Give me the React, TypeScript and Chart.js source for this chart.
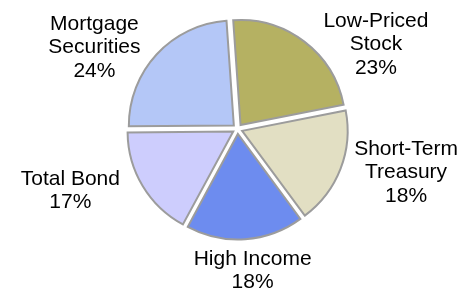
import React, { useEffect, useRef } from "react";
import { Chart, registerables } from "chart.js";

Chart.register(...registerables);

const categories = [
  ["Low-Priced", "Stock"],
  ["Short-Term", "Treasury"],
  ["High Income"],
  ["Total Bond"],
  ["Mortgage", "Securities"],
];
const shares = [23, 18, 18, 17, 24];
const sliceColors = ["#B5B162", "#E2DFC3", "#6D8CEF", "#CDCDFD", "#B4C7F7"];

const W = 462;
const H = 288;
const FONT = '21px "Liberation Sans", Arial, sans-serif';
const LINE_H = 23.5;
const AX = 195;
const AY = 120;
const GAP = 11.5;
const EXPLODE = 20;

const labelPlugin = {
  id: "outsideLabels",
  afterDatasetsDraw(chart: any) {
    const ctx = chart.ctx as CanvasRenderingContext2D;
    const meta = chart.getDatasetMeta(0);
    const total = shares.reduce((a, b) => a + b, 0);
    ctx.save();
    ctx.font = FONT;
    ctx.fillStyle = "#000";
    ctx.textAlign = "center";
    ctx.textBaseline = "middle";
    meta.data.forEach((arc: any, i: number) => {
      const p = arc.getProps(["x", "y", "startAngle", "endAngle", "outerRadius"], true);
      const mid = (p.startAngle + p.endAngle) / 2;
      const ux = Math.cos(mid);
      const uy = Math.sin(mid);
      const lines = [...categories[i], Math.round((shares[i] / total) * 100) + "%"];
      const widths = lines.map((l) => ctx.measureText(l).width);
      const n = lines.length;
      const rEff = p.outerRadius + EXPLODE / 4 + GAP;
      let cx = p.x + AX * ux;
      let cy = p.y + AY * uy;
      const clears = (x: number, y: number) => {
        for (let k = 0; k < n; k++) {
          const ly = y + (k - (n - 1) / 2) * LINE_H;
          const x0 = x - widths[k] / 2, x1 = x + widths[k] / 2;
          const y0 = ly - 8, y1 = ly + 8;
          const nx = Math.max(x0, Math.min(p.x, x1));
          const ny = Math.max(y0, Math.min(p.y, y1));
          if (Math.hypot(nx - p.x, ny - p.y) < rEff) return false;
        }
        return true;
      };
      let guard = 0;
      while (!clears(cx, cy) && guard < 200) {
        cx += ux;
        cy += uy;
        guard++;
      }
      const firstMin = 21;
      const first = cy - ((n - 1) / 2) * LINE_H;
      if (first < firstMin) {
        cy += firstMin - first;
        const dy = (cy - p.y) / AY;
        cx = p.x + Math.sign(ux) * AX * Math.sqrt(Math.max(0, 1 - dy * dy));
      }
      const maxW = Math.max(...widths);
      if (cx + maxW / 2 > W - 4) cx = W - 4 - maxW / 2;
      if (cx - maxW / 2 < 4) cx = 4 + maxW / 2;
      lines.forEach((l, k) => {
        ctx.fillText(l, cx, cy + (k - (n - 1) / 2) * LINE_H);
      });
    });
    ctx.restore();
  },
};

export default function App() {
  const ref = useRef<HTMLCanvasElement>(null);
  useEffect(() => {
    if (!ref.current) return;
    const chart = new Chart(ref.current, {
      type: "pie",
      data: {
        labels: categories.map((c) => c.join(" ")),
        datasets: [
          {
            data: shares,
            backgroundColor: sliceColors,
            borderColor: "#9C9C9C",
            borderWidth: 2,
            borderJoinStyle: "miter",
            offset: EXPLODE,
            hoverOffset: 0,
          } as any,
        ],
      },
      options: {
        responsive: false,
        animation: false,
        devicePixelRatio: 1,
        rotation: -4,
        radius: 105,
        layout: { padding: { left: 13, right: 0, top: 0, bottom: 30 } },
        plugins: {
          legend: { display: false },
          tooltip: { enabled: false },
        },
        events: [],
      } as any,
      plugins: [labelPlugin],
    });
    return () => chart.destroy();
  }, []);
  return (
    <div style={{ position: "fixed", left: 0, top: 0, width: W, height: H, background: "#fff" }}>
      <canvas ref={ref} width={W} height={H} style={{ display: "block", width: W, height: H }} />
    </div>
  );
}
